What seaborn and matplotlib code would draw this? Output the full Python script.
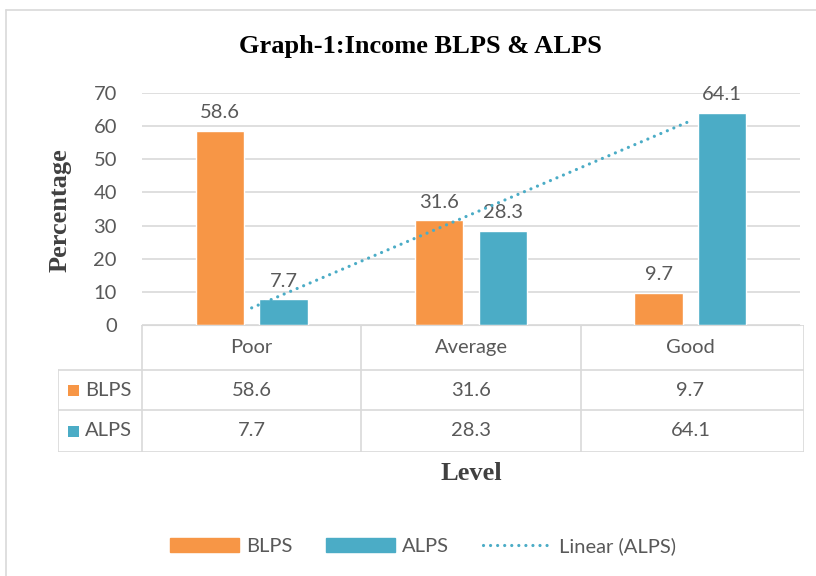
import numpy as np
import pandas as pd
import matplotlib
matplotlib.use("Agg")
import matplotlib.pyplot as plt
import seaborn as sns
from matplotlib.patches import Patch, Rectangle
from matplotlib.lines import Line2D

# data
levels = ["Poor", "Average", "Good"]
series = ["BLPS", "ALPS"]
blps = [58.6, 31.6, 9.7]
alps = [7.7, 28.3, 64.1]
y_ticks = [0, 10, 20, 30, 40, 50, 60, 70]

colors = {"BLPS": "#F79646", "ALPS": "#4BACC6"}
txt = "#595959"
grid = "#D9D9D9"
sans = ["Lato", "DejaVu Sans"]
serif = ["Liberation Serif", "DejaVu Serif"]
fs = 14.5

df = pd.DataFrame({
    "level": levels * 2,
    "series": ["BLPS"] * 3 + ["ALPS"] * 3,
    "value": blps + alps,
})

sns.set_style("white")
plt.rcParams["font.family"] = sans

W, H = 816, 576
fig = plt.figure(figsize=(W / 100, H / 100), dpi=100)

# outer chart frame (runs off the right/bottom edge like the reference)
fig.add_artist(Line2D([6 / W, 6 / W], [1 - 10 / H, 0], color=grid, lw=1.2))
fig.add_artist(Line2D([6 / W, 1], [1 - 10 / H, 1 - 10 / H], color=grid, lw=1.2))

ax = fig.add_axes([142 / W, 1 - 325 / H, (800 - 142) / W, (325 - 93) / H])
sns.barplot(data=df, x="level", y="value", hue="series", order=levels,
            hue_order=series, palette=colors, width=0.58, gap=0.24,
            saturation=1, legend=False, ax=ax)

for cont in ax.containers:
    ax.bar_label(cont, fmt="%.1f", padding=7, fontsize=fs, color=txt)

# linear trendline of ALPS
xi = np.arange(len(levels))
k, b = np.polyfit(xi + 1, alps, 1)
ax.plot(xi, k * (xi + 1) + b, color=colors["ALPS"], lw=2.3,
        linestyle=(0, (0.01, 2.2)), dash_capstyle="round", zorder=3)

ax.set_ylim(0, 70)
ax.set_xlim(-0.5, 2.5)
ax.set_yticks(y_ticks)
ax.tick_params(axis="y", length=0, labelsize=fs, labelcolor=txt, pad=18)
ax.tick_params(axis="x", length=0, labelbottom=False)
ax.yaxis.grid(True, color=grid, lw=1.2)
ax.set_axisbelow(True)
ax.set_xlabel("")
ax.set_ylabel("")
for s in ["top", "right", "left"]:
    ax.spines[s].set_visible(False)
ax.spines["bottom"].set_color(grid)

# data table under the axis
cw = 658 / 3
tax = fig.add_axes([58 / W, 1 - 452 / H, (804 - 58) / W, (452 - 325) / H])
x0, x_end = -0.5 - 84 / cw, 2.5 + 4 / cw
tax.set_xlim(x0, x_end)
tax.set_ylim(127, 0)
tax.axis("off")
rows_y = [0, 45, 85, 127]
lk = dict(color=grid, lw=1.2)
tax.plot([-0.5, x_end], [0, 0], **lk)
for yy in rows_y[1:]:
    tax.plot([x0, x_end], [yy, yy], **lk)
tax.plot([x0, x0], [45, 127], **lk)
for xx in [-0.5, 0.5, 1.5, x_end]:
    tax.plot([xx, xx], [0, 127], **lk)
for i, lv in enumerate(levels):
    tax.text(i, 22.5, lv, ha="center", va="center", fontsize=fs, color=txt)
for r, (name, vals) in enumerate(zip(series, [blps, alps])):
    yc = (rows_y[r + 1] + rows_y[r + 2]) / 2
    tax.add_patch(Rectangle((x0 + 10 / cw, yc - 5.5), 11 / cw, 11,
                            color=colors[name], lw=0))
    tax.text(x0 + 27 / cw, yc, name, ha="left", va="center", fontsize=fs, color=txt)
    for i, v in enumerate(vals):
        tax.text(i, yc, f"{v:.1f}", ha="center", va="center", fontsize=fs, color=txt)

fig.text(420 / W, 1 - 47 / H, "Graph-1:Income BLPS & ALPS", ha="center",
         va="center", fontsize=19, fontweight="bold", family=serif, color="black")
fig.text(60 / W, 1 - 210 / H, "Percentage", ha="center", va="center",
         rotation=90, fontsize=19, fontweight="bold", family=serif, color="#404040")
fig.text(471 / W, 1 - 473 / H, "Level", ha="center", va="center",
         fontsize=19, fontweight="bold", family=serif, color="#404040")

handles = [Patch(color=colors["BLPS"], label="BLPS"),
           Patch(color=colors["ALPS"], label="ALPS"),
           Line2D([], [], color=colors["ALPS"], lw=2.3, linestyle=(0, (0.01, 2.2)),
                  dash_capstyle="round", label="Linear (ALPS)")]
fig.legend(handles=handles, loc="center", bbox_to_anchor=(423 / W, 1 - 546 / H),
           ncol=3, frameon=False, fontsize=fs, labelcolor=txt, handlelength=3.4,
           handleheight=0.75, handletextpad=0.35, columnspacing=1.7)

fig.savefig("out.png", dpi=100)
